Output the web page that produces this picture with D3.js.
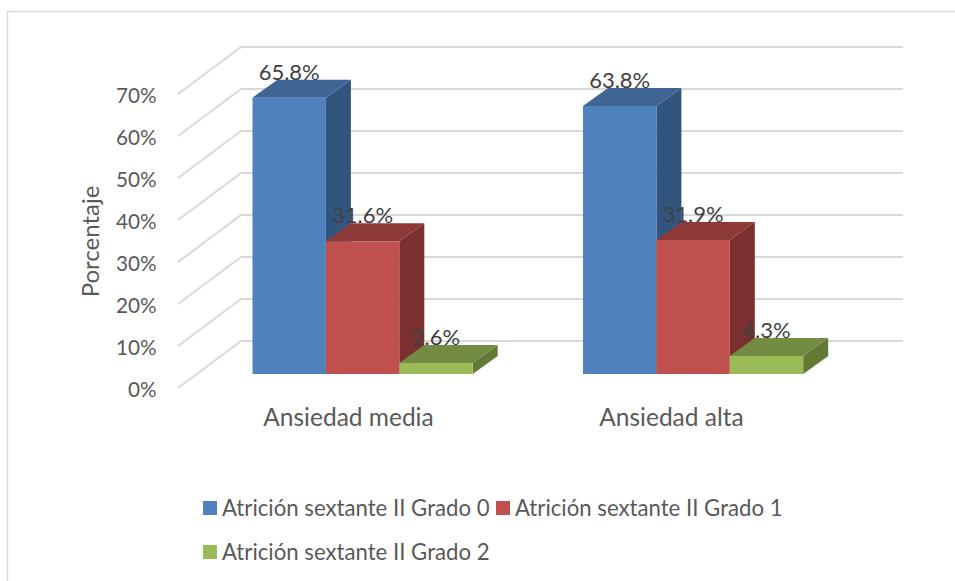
<!DOCTYPE html>
<html><head><meta charset="utf-8">
<script src="https://cdn.jsdelivr.net/npm/d3@7"></script>
<style>html,body{margin:0;padding:0;background:#fff;overflow:hidden}svg{display:block}text{font-family:Lato,"Open Sans",sans-serif}</style>
</head><body><svg id="c" width="955" height="581"></svg>
<script>
const categories = ["Ansiedad media", "Ansiedad alta"];
const seriesNames = ["Atrición sextante II Grado 0", "Atrición sextante II Grado 1", "Atrición sextante II Grado 2"];
const grado0 = [65.8, 63.8];
const grado1 = [31.6, 31.9];
const grado2 = [2.6, 4.3];
const tickValues = [0, 10, 20, 30, 40, 50, 60, 70];
const frontColors = ["#4f81bd", "#c0504d", "#9bbb59"];
const topColors = ["#3e6594", "#8e3a38", "#738b42"];
const sideColors = ["#325580", "#7a302e", "#637936"];

const svg = d3.select("#c");
const series = [grado0, grado1, grado2];
const textCol = "#595959", gridCol = "#d9d9d9";

// frame
svg.append("path").attr("d", "M7.5,581V11.5H955").attr("fill", "none").attr("stroke", gridCol).attr("stroke-width", 1.4);

// scales
const h = d3.scaleLinear().domain([0, 70]).range([0, 294]);
const wallFront = v => 388 - h(v), wallBack = v => 341 - h(v);
const barBase = 374;
const groupX = d3.scaleOrdinal().domain(categories).range([252.5, 583]);
const barW = 73.4, depthX = 25, depthY = 18;

// gridlines
const grid = svg.append("g").attr("fill", "none").attr("stroke", gridCol).attr("stroke-width", 2);
tickValues.forEach(v => {
  grid.append("path").attr("d", `M178,${wallFront(v)}L241,${wallBack(v)}H903`);
});

// axis labels
const yAxis = d3.axisLeft(d3.scaleLinear().domain([0, 70]).range([wallFront(0) + 1.5, wallFront(70) + 1.5]))
  .tickValues(tickValues).tickFormat(d => d + "%").tickSize(0).tickPadding(0);
const ax = svg.append("g").attr("transform", "translate(156.5,0)").call(yAxis);
ax.select(".domain").remove();
ax.selectAll("text").attr("font-size", 20.7).attr("fill", textCol).style("font-family", "Lato");

svg.append("text").attr("transform", "translate(99,241.5) rotate(-90)").attr("text-anchor", "middle")
  .attr("font-size", 24).attr("fill", textCol).text("Porcentaje");

// bars
categories.forEach((cat, ci) => {
  const g = svg.append("g");
  series.forEach((vals, si) => {
    const x0 = groupX(cat) + si * barW, x1 = x0 + barW;
    const yt = barBase - h(vals[ci]);
    g.append("path").attr("fill", sideColors[si])
      .attr("d", `M${x1},${yt}L${x1 + depthX},${yt - depthY}V${barBase - depthY}L${x1},${barBase}Z`);
    g.append("path").attr("fill", topColors[si])
      .attr("d", `M${x0},${yt}L${x0 + depthX},${yt - depthY}H${x1 + depthX}L${x1},${yt}Z`);
    g.append("rect").attr("x", x0).attr("y", yt).attr("width", barW).attr("height", h(vals[ci])).attr("fill", frontColors[si]);
  });
});

// value labels
categories.forEach((cat, ci) => {
  series.forEach((vals, si) => {
    const x0 = groupX(cat) + si * barW;
    svg.append("text").attr("x", x0 + barW / 2).attr("y", barBase - h(vals[ci]) - 18)
      .attr("text-anchor", "middle").attr("font-size", 22).attr("fill", "#404040")
      .text(vals[ci].toFixed(1) + "%");
  });
});

// category labels
categories.forEach((cat, ci) => {
  svg.append("text").attr("x", [348.5, 671.5][ci]).attr("y", 426).attr("text-anchor", "middle")
    .attr("font-size", 24.5).attr("fill", textCol).text(cat);
});

// legend
const legendPos = [[203, 501], [496, 501], [203, 545]];
seriesNames.forEach((name, i) => {
  const [x, y] = legendPos[i];
  svg.append("rect").attr("x", x).attr("y", y).attr("width", 14).attr("height", 14).attr("fill", frontColors[i]);
  svg.append("text").attr("x", x + 19).attr("y", y + 14.5).attr("font-size", 22.2).attr("fill", textCol).text(name);
});
</script></body></html>
